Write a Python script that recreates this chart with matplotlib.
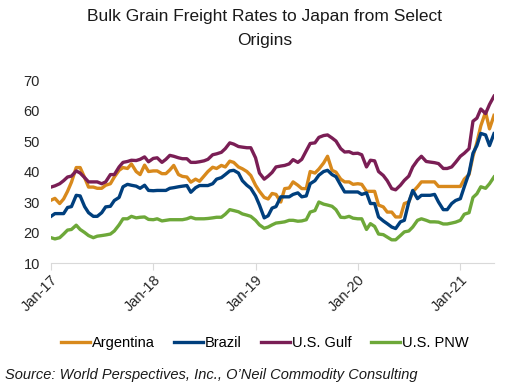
import numpy as np
import pandas as pd
import matplotlib
matplotlib.use("Agg")
import matplotlib.pyplot as plt
import matplotlib.dates as mdates

plt.rcParams['font.family'] = ['Liberation Sans', 'DejaVu Sans']

# semi-monthly freight rates, Jan 2017 - May 2021 ($/mt)
dates = pd.date_range('2017-01-01', '2021-05-01', freq='SMS')

us_gulf = [34.9, 35.3, 36, 37, 38.2, 38.5, 40.2, 39.5, 38, 36.6, 36.6, 36.6, 36.0, 36.6, 39, 39,
           41.5, 43, 43.3, 43.7, 43.6, 44, 44.8, 43.2, 44.3,
           44.5, 43, 44, 45.3, 45, 44.5, 44.2, 44.2, 43, 43, 43.2, 43.5, 44, 45.5, 45.8, 46.3,
           47.5, 49.4, 49, 48.2, 48, 47.8, 47.8,
           44.5, 39.5, 37.5, 38.5, 39.7, 41.5, 41.8, 42, 42.5, 43.9, 43, 44, 46.8, 49.2, 49.4,
           51.2, 51.8, 52, 51, 50, 47.5, 46.4, 46.5, 45.9,
           46,
           45.5, 41.5, 43.7, 43.5, 40, 38.7, 37, 34.4, 34, 35.5, 37.1, 38.5, 41.5, 43.7, 45,
           43.3, 43.1, 42.9, 42.6, 41, 41, 41.5, 43, 45, 46, 47.5, 56.5, 57.5, 60.5, 59, 62, 64.7]

argentina = [30.6, 31.2, 29.5, 31, 33.5, 36.5, 41.3, 41.3, 38, 34.9, 34.9, 34.5, 34.5, 35.5, 36,
             38.2, 40.4, 41.3, 41, 42.5, 40, 39, 42.1, 40, 40.2,
             40.2, 39.3, 39.3, 40.5, 42, 39, 38.4, 38.2, 36.5, 37.5, 36.8, 38.5, 40, 41.4, 41, 42,
             41.5, 43.4, 43, 41.5, 40.9, 40, 38.7,
             35.5, 33.5, 31.5, 31, 32.8, 32.5, 30, 34.4, 34.6, 36.6, 35.5, 34.4, 34.4, 40, 39.5,
             40.8, 42.8, 45, 40.4, 39.8, 37.5, 36.6, 36.6, 35.8,
             36,
             35.8, 33.5, 33.5, 33.5, 29, 28.4, 26.7, 26.7, 25.1, 25.1, 29.5, 30, 33.3, 35, 36.6,
             36.6, 36.6, 36.6, 35.1, 35.1, 35.1, 35.1, 35.1, 35.1, 37.5, 39, 45, 49.5, 55, 59.5, 54, 58.4]

brazil = [25.3, 26.2, 26.2, 26.2, 28.2, 28.5, 32.2, 32, 28.5, 26.5, 25.3, 25.3, 26.5, 28.4, 28.6,
          30.5, 31.5, 35, 35.8, 35.5, 35.2, 34.5, 35.5, 33.8, 33.7,
          33.8, 33.8, 33.8, 34.5, 34.7, 35, 35.2, 35.4, 33.2, 34.7, 35.4, 35.4, 35.4, 36, 37.5, 38,
          39, 40.2, 40.4, 39.5, 37, 35.5, 34.5,
          32, 29, 24.8, 25.5, 28, 28.5, 31.7, 31.7, 31.7, 32.5, 33, 31.7, 32, 36, 37, 38.8, 40,
          40.4, 39, 38.3, 35.5, 33.3, 33.3, 33.3,
          33.3,
          32.5, 33, 29.5, 29.5, 25.1, 23.8, 22.9, 21.8, 21.3, 23.5, 24, 30, 33.8, 31.1, 32.2,
          32.2, 32.2, 32.5, 30, 27.5, 27.5, 29.5, 30.5, 31.1, 35, 39.5, 46, 48.5, 52.5, 52, 48.5, 52.4]

us_pnw = [18.3, 17.9, 18.3, 19.5, 20.8, 21, 22.4, 21, 20, 19, 18.3, 18.8, 19, 19.2, 19.5, 20.5,
          22.5, 24.5, 24.5, 25.3, 24.8, 25, 25.1, 24.3, 24.2,
          24.5, 23.8, 24, 24.2, 24.2, 24.2, 24.2, 24.5, 25, 24.5, 24.5, 24.5, 24.6, 24.8, 25, 25,
          26, 27.5, 27.2, 26.8, 26.1, 25.7, 25.3,
          24, 22.5, 21.4, 21.8, 22.5, 23.1, 23.3, 23.5, 24, 24, 23.7, 23.8, 24.2, 26.7, 27.2, 30,
          29.3, 29, 28.6, 27.5, 25, 24.9, 25.3, 24.7,
          24.5,
          24.5, 21, 22.9, 22, 19.5, 19.3, 18.5, 17.6, 17.6, 19, 20.2, 20.5, 21.8, 24, 24.5,
          24, 23.5, 23.5, 23.4, 22.8, 22.8, 23.1, 23.4, 24, 26, 26.5, 31.5, 32.7, 35, 34.5, 36, 38.2]

series = [("Argentina", argentina, "#D8891C"),
          ("Brazil", brazil, "#003F7D"),
          ("U.S. Gulf", us_gulf, "#7A1E55"),
          ("U.S. PNW", us_pnw, "#6DA839")]

fig = plt.figure(figsize=(5.09, 3.83), dpi=100)
ax = fig.add_axes([0.1002, 0.3133, 0.8703, 0.4777])

for name, vals, col in series:
    ax.plot(dates, vals, color=col, lw=2.4, label=name, solid_joinstyle='round')

ax.set_xlim(dates[0], dates[-1])
ax.set_ylim(10, 70)
ax.set_yticks(range(10, 71, 10))
ax.xaxis.set_major_locator(mdates.YearLocator(month=1, day=1))
ax.xaxis.set_major_formatter(mdates.DateFormatter('%b-%y'))
for lab in ax.get_xticklabels():
    lab.set_rotation(45)
    lab.set_ha('right')
    lab.set_rotation_mode('anchor')

for s in ['top', 'right', 'left']:
    ax.spines[s].set_visible(False)
ax.spines['bottom'].set_color('#D9D9D9')
ax.tick_params(axis='y', length=0, labelsize=10.5, colors='#262626', pad=8)
ax.tick_params(axis='x', length=5, color='#D9D9D9', labelsize=10.5, labelcolor='#262626', pad=2)

fig.text(0.52, 1 - 21 / 383, "Bulk Grain Freight Rates to Japan from Select",
         ha='center', va='baseline', fontsize=12.5, color='#1a1a1a')
fig.text(0.52, 1 - 45 / 383, "Origins",
         ha='center', va='baseline', fontsize=12.5, color='#1a1a1a')

fig.legend(loc='center', bbox_to_anchor=(0.52, 0.104), ncol=4, frameon=False,
           fontsize=10.5, handlelength=2.0, handletextpad=0.15, columnspacing=1.3)

fig.text(0.01, 1 - 379 / 383, "Source: World Perspectives, Inc., O\u2019Neil Commodity Consulting",
         ha='left', va='baseline', fontsize=10.5, style='italic', color='#1a1a1a')

fig.savefig('out.png', dpi=100)
